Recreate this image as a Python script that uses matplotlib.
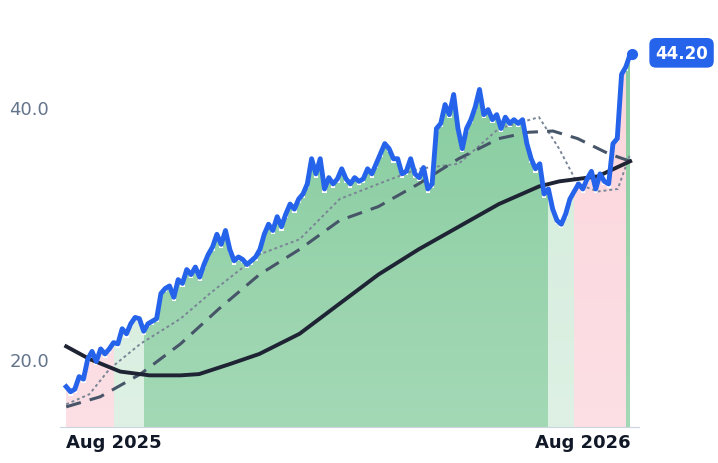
import numpy as np
import matplotlib
matplotlib.use("Agg")
import matplotlib.pyplot as plt

price = [17.8,17.4,17.6,18.6,18.4,20.0,20.6,19.8,20.8,20.4,20.8,21.3,21.2,22.4,22.0,22.8,23.3,23.2,22.2,22.8,
         23.0,23.2,25.2,25.6,25.8,24.9,26.3,26.0,27.1,26.7,27.3,26.5,27.5,28.3,28.9,29.9,29.1,30.2,28.7,27.8,
         28.1,27.9,27.5,27.8,28.1,28.7,29.9,30.7,30.2,31.3,30.5,31.5,32.3,31.9,32.7,33.1,33.9,35.9,34.7,35.9,
         33.5,34.4,33.9,34.3,35.1,34.3,33.9,34.4,34.1,34.3,35.1,34.7,35.5,36.3,37.1,36.7,35.9,35.9,34.7,34.9,
         35.9,34.7,34.4,35.2,33.5,33.9,38.3,38.7,40.2,39.4,41.0,38.3,36.7,38.3,39.0,40.0,41.4,39.4,39.8,39.0,
         39.4,38.3,39.2,38.7,39.0,38.7,39.0,37.1,35.9,35.1,35.5,33.1,33.5,31.9,31.0,30.7,31.5,32.7,33.3,33.9,
         33.5,34.3,34.9,33.5,34.7,34.1,33.9,37.1,37.5,42.6,43.2,44.2]
days = np.linspace(0, 365, len(price))

short_x = [0,15,28,48,74,93,125,151,177,202,228,254,280,306,319,331,344,357,365]
short_v = [16.4,17.2,19.2,21.2,23.2,25.2,28.3,29.5,32.7,33.9,35.1,35.5,38.3,39.2,36.7,33.9,33.3,33.5,36.3]
mid_x = [0,22,48,74,99,125,151,177,202,228,254,280,299,315,331,351,365]
mid_v = [16.2,17.0,18.8,21.2,24.0,26.7,28.7,31.0,32.1,33.9,35.9,37.5,38.0,38.1,37.5,36.3,35.7]
long_x = [0,15,35,54,74,86,106,125,151,177,202,228,254,280,306,319,344,365]
long_v = [21.0,20.0,19.0,18.7,18.7,18.8,19.6,20.4,22.0,24.4,26.7,28.7,30.5,32.3,33.7,34.1,34.5,35.7]

segments = [(0,30,'#fbd5dc'),(30,49,'#d3ecdb'),(49,313,'#86cc9e'),(313,330,'#d3ecdb'),(330,362,'#fbd5dc'),(362,365,'#86cc9e')]

fig = plt.figure(figsize=(7.18,4.64), dpi=100)
ax = fig.add_axes([0.0836, 0.0776, 0.807, 0.836])
ymin, ymax = 14.6, 45.4
pr = np.array(price)
for a,b,c in segments:
    m = (days >= a-1.5) & (days <= b+1.5)
    ax.fill_between(days[m], ymin, pr[m]-0.3, step='mid', color=c, lw=0, zorder=1)
grad = np.linspace(0,1,100).reshape(-1,1)
ax.imshow(grad, extent=[-3,368,ymin,ymax], aspect='auto', cmap=matplotlib.colors.LinearSegmentedColormap.from_list('g',[(1,1,1,0.25),(1,1,1,0)]), origin='lower', zorder=1.5)
ax.plot(short_x, short_v, ls=(0,(1.5,1.5)), color='#7a8596', lw=1.4, zorder=2)
ax.plot(mid_x, mid_v, ls=(0,(5,3)), color='#475569', lw=2.2, zorder=2)
ax.plot(long_x, long_v, color='#1e2433', lw=2.8, zorder=3)
ax.plot(days, pr, color='#2563eb', lw=3.5, zorder=4, solid_joinstyle='round')
ax.plot(days[-1]+1, pr[-1], 'o', color='#2563eb', ms=7, zorder=5)
ax.annotate('44.20', xy=(days[-1], pr[-1]), xytext=(18, 1), textcoords='offset points',
            ha='left', va='center', color='white', fontsize=12, fontweight='bold',
            bbox=dict(boxstyle='round,pad=0.35,rounding_size=0.4', fc='#2563eb', ec='none'), annotation_clip=False)
ax.set_xlim(-4, 371)
ax.set_ylim(ymin, ymax)
ax.set_yticks([20, 40]); ax.set_yticklabels(['20.0','40.0'])
ax.set_xticks([0, 365]); ax.set_xticklabels(['Aug 2025','Aug 2026'])
for lab, ha in zip(ax.get_xticklabels(), ['left','right']):
    lab.set_ha(ha)
ax.tick_params(axis='y', length=0, labelsize=13, labelcolor='#64748b', pad=8)
ax.tick_params(axis='x', length=0, labelsize=13, labelcolor='#111827', pad=4)
for l in ax.get_xticklabels(): l.set_fontweight('bold')
for s in ['top','right','left']: ax.spines[s].set_visible(False)
ax.spines['bottom'].set_color('#cbd5e1')
fig.savefig('out.png', dpi=100)
